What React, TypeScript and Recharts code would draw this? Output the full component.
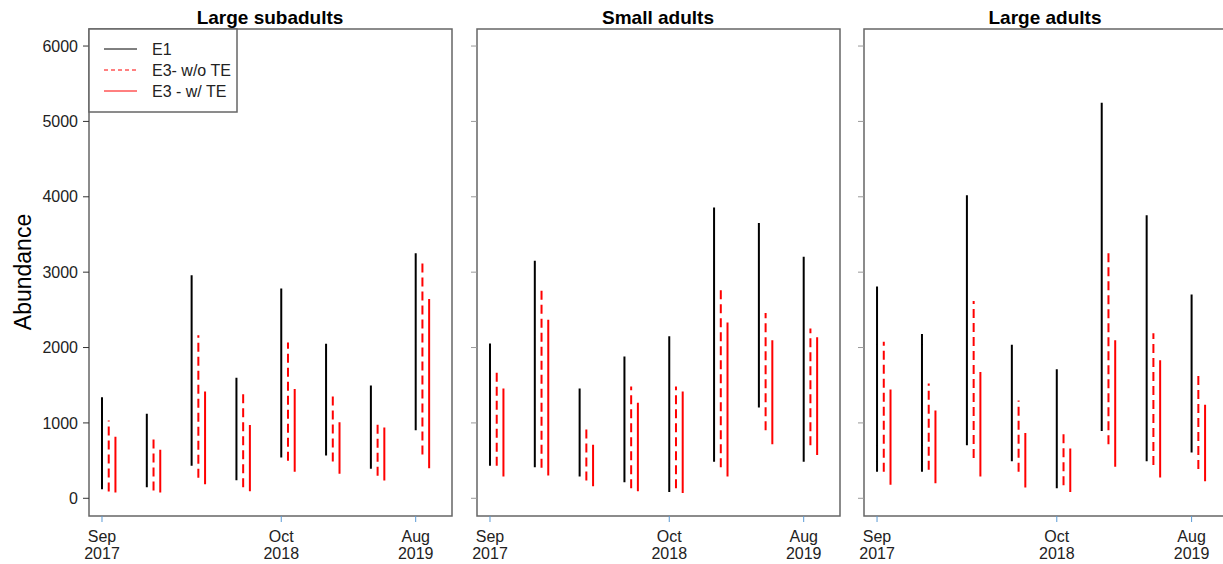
import React from 'react';
import { ComposedChart, Line, XAxis, YAxis, ReferenceArea } from 'recharts';

// ---- axes / categories ----
const timePoints = [0, 1, 2, 3, 4, 5, 6, 7];
const tickPositions = [0, 4, 7];
const tickMonths = ['Sep', 'Oct', 'Aug'];
const tickYears = ['2017', '2018', '2019'];
const yTicks = [0, 1000, 2000, 3000, 4000, 5000, 6000];
const xDomain = [-0.29, 7.81];
const yDomain = [-235, 6226];
const offsetE3noTE = 0.15;
const offsetE3TE = 0.3;

// ---- Large subadults ----
const lsE1Low = [120, 147, 431, 240, 542, 569, 391, 902];
const lsE1High = [1342, 1120, 2960, 1600, 2782, 2049, 1498, 3250];
const lsNoTELow = [89, 102, 271, 147, 498, 489, 298, 582];
const lsNoTEHigh = [1031, 804, 2164, 1400, 2067, 1382, 1036, 3167];
const lsTELow = [76, 76, 187, 93, 351, 324, 236, 400];
const lsTEHigh = [818, 644, 1418, 973, 1449, 1009, 938, 2644];

// ---- Small adults ----
const saE1Low = [431, 413, 289, 213, 84, 484, 1204, 484];
const saE1High = [2053, 3150, 1458, 1880, 2151, 3857, 3653, 3204];
const saNoTELow = [431, 404, 236, 133, 133, 413, 902, 702];
const saNoTEHigh = [1711, 2782, 938, 1484, 1484, 2782, 2458, 2253];
const saTELow = [289, 302, 160, 93, 71, 289, 716, 573];
const saTEHigh = [1458, 2369, 711, 1267, 1418, 2333, 2098, 2138];

// ---- Large adults ----
const laE1Low = [351, 351, 702, 493, 133, 893, 493, 609];
const laE1High = [2809, 2178, 4021, 2036, 1711, 5247, 3754, 2702];
const laNoTELow = [351, 378, 533, 351, 173, 716, 440, 387];
const laNoTEHigh = [2076, 1524, 2618, 1298, 907, 3310, 2191, 1662];
const laTELow = [178, 200, 289, 142, 84, 418, 276, 227];
const laTEHigh = [1444, 1164, 1676, 867, 662, 2098, 1831, 1240];

const FONT = '"Liberation Sans", Arial, sans-serif';

function segments(low: number[], high: number[], off: number) {
  return timePoints.flatMap((t, i) => [
    { x: t + off, y: low[i] },
    { x: t + off, y: high[i] },
    { x: t + off, y: null },
  ]);
}

const XTick = (props: any) => {
  const { x, y, payload } = props;
  const i = tickPositions.indexOf(payload.value);
  return (
    <text x={x} y={y} textAnchor="middle" fontSize={16} fill="#222" fontFamily={FONT}>
      <tspan x={x} dy={18}>{tickMonths[i]}</tspan>
      <tspan x={x} dy={17}>{tickYears[i]}</tspan>
    </text>
  );
};

type PanelProps = {
  left: number;
  width: number;
  yWidth: number;
  marginRight: number;
  showYLabels: boolean;
  e1: [number[], number[]];
  noTE: [number[], number[]];
  te: [number[], number[]];
};

const Panel = ({ left, width, yWidth, marginRight, showYLabels, e1, noTE, te }: PanelProps) => (
  <div style={{ position: 'absolute', left, top: 0 }}>
    <ComposedChart width={width} height={564} margin={{ top: 29, right: marginRight, bottom: 0, left: 0 }}>
      <XAxis
        type="number"
        dataKey="x"
        domain={xDomain}
        allowDataOverflow
        ticks={tickPositions}
        interval={0}
        tick={<XTick />}
        tickSize={6}
        tickMargin={2}
        tickLine={{ stroke: '#5b9bd5', strokeWidth: 1 }}
        axisLine={false}
        height={48}
      />
      <YAxis
        type="number"
        domain={yDomain}
        allowDataOverflow
        ticks={yTicks}
        interval={0}
        width={yWidth}
        tickSize={6}
        tickMargin={5}
        axisLine={false}
        tickLine={{ stroke: showYLabels ? '#333' : '#999', strokeWidth: 1 }}
        tick={{ fontSize: 16, fill: '#222', fontFamily: FONT }}
        tickFormatter={(v: number) => (showYLabels ? String(v) : '')}
      />
      <ReferenceArea
        x1={xDomain[0]}
        x2={xDomain[1]}
        y1={yDomain[0]}
        y2={yDomain[1]}
        fill="none"
        fillOpacity={0}
        stroke="#666"
        strokeWidth={1.5}
        ifOverflow="visible"
      />
      <Line
        data={segments(e1[0], e1[1], 0)}
        dataKey="y"
        type="linear"
        stroke="#000"
        strokeWidth={2}
        dot={false}
        activeDot={false}
        connectNulls={false}
        isAnimationActive={false}
      />
      <Line
        data={segments(noTE[0], noTE[1], offsetE3noTE)}
        dataKey="y"
        type="linear"
        stroke="#ff0000"
        strokeWidth={2}
        strokeDasharray="9 5"
        dot={false}
        activeDot={false}
        connectNulls={false}
        isAnimationActive={false}
      />
      <Line
        data={segments(te[0], te[1], offsetE3TE)}
        dataKey="y"
        type="linear"
        stroke="#ff0000"
        strokeWidth={2}
        dot={false}
        activeDot={false}
        connectNulls={false}
        isAnimationActive={false}
      />
    </ComposedChart>
  </div>
);

const legendItems = [
  { label: 'E1', color: '#000', dash: undefined as string | undefined },
  { label: 'E3- w/o TE', color: '#ff0000', dash: '4 3' },
  { label: 'E3 - w/ TE', color: '#ff0000', dash: undefined },
];

export default function App() {
  return (
    <div
      style={{
        position: 'absolute',
        left: 0,
        top: 0,
        width: 1223,
        height: 564,
        overflow: 'hidden',
        background: '#fff',
        fontFamily: FONT,
      }}
    >
      <Panel left={0} width={460} yWidth={89} marginRight={8} showYLabels e1={[lsE1Low, lsE1High]} noTE={[lsNoTELow, lsNoTEHigh]} te={[lsTELow, lsTEHigh]} />
      <Panel left={460} width={390} yWidth={17} marginRight={10} showYLabels={false} e1={[saE1Low, saE1High]} noTE={[saNoTELow, saNoTEHigh]} te={[saTELow, saTEHigh]} />
      <Panel left={850} width={380} yWidth={14} marginRight={2} showYLabels={false} e1={[laE1Low, laE1High]} noTE={[laNoTELow, laNoTEHigh]} te={[laTELow, laTEHigh]} />
      <svg width={1223} height={564} style={{ position: 'absolute', left: 0, top: 0, pointerEvents: 'none' }}>
        <text x={270} y={24} textAnchor="middle" fontSize={19} fontWeight="bold" fontFamily={FONT} fill="#000">Large subadults</text>
        <text x={658} y={24} textAnchor="middle" fontSize={19} fontWeight="bold" fontFamily={FONT} fill="#000">Small adults</text>
        <text x={1045} y={24} textAnchor="middle" fontSize={19} fontWeight="bold" fontFamily={FONT} fill="#000">Large adults</text>
        <text x={31} y={272} textAnchor="middle" fontSize={23} fontFamily={FONT} fill="#000" transform="rotate(-90 31 272)">Abundance</text>
        <rect x={89} y={29} width={148} height={83} fill="#fff" stroke="#666" strokeWidth={1.5} />
        {legendItems.map((it, i) => (
          <g key={it.label}>
            <line x1={104} x2={137} y1={49 + i * 21} y2={49 + i * 21} stroke={it.color} strokeWidth={1} strokeDasharray={it.dash} />
            <text x={152} y={54.5 + i * 21} fontSize={16} fontFamily={FONT} fill="#222">{it.label}</text>
          </g>
        ))}
      </svg>
    </div>
  );
}
